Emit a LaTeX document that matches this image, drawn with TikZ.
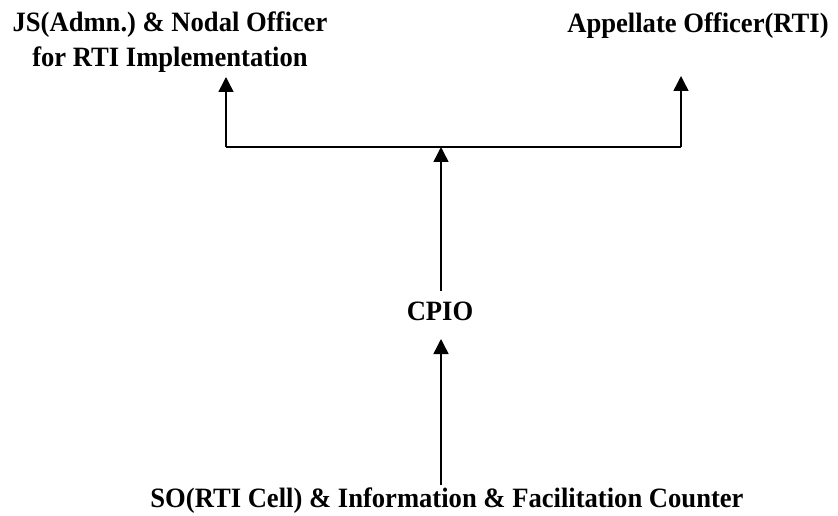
\documentclass[tikz,border=0pt]{standalone}
\usepackage{fontspec}
\setmainfont{Liberation Serif}[FakeStretch=0.95]
\usetikzlibrary{arrows.meta}
\begin{document}
\begin{tikzpicture}[x=1pt, y=-1pt,
  post/.style={font=\bfseries\fontsize{28}{35}\selectfont, inner sep=0pt, anchor=base, align=center},
  link/.style={line width=1.5pt, draw=black},
  up/.style={link, -{Triangle[length=15pt, width=15pt]}}]
\useasboundingbox (0,0) rectangle (838,516);
\node[post] (JS) at (170, 67) {JS(Admn.)\ \& Nodal Officer\\for RTI Implementation};
\node[post] (AO) at (698, 33) {Appellate Officer(RTI)};
\node[post] (CPIO) at (440, 320) {CPIO};
\node[post] (SO) at (447, 507) {SO(RTI Cell) \& Information \& Facilitation Counter};
\coordinate (JN) at (441, 147);
\coordinate (JL) at (226, 147);
\coordinate (JR) at (681, 147);
\coordinate (TL) at (226, 77);
\coordinate (TR) at (681, 76);
\coordinate (BC) at (441, 291);
\coordinate (TS) at (441, 339);
\coordinate (BS) at (441, 485);
\draw [link] (JL) -- (JR);
\draw [up] (JL) -- (TL);
\draw [up] (JR) -- (TR);
\draw [up] (BC) -- (JN);
\draw [up] (BS) -- (TS);
\end{tikzpicture}
\end{document}
